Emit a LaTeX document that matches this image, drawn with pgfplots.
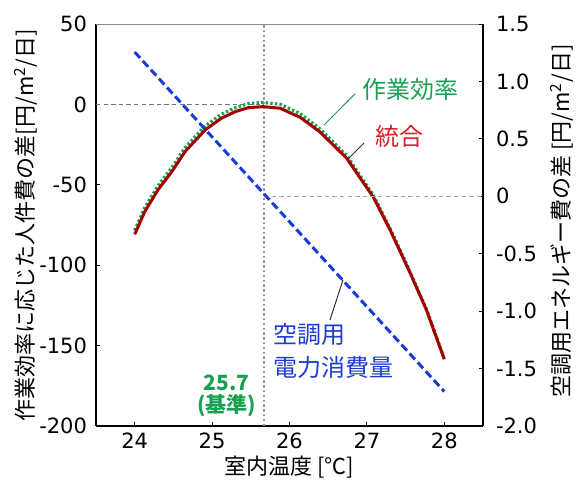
\documentclass[border=0pt]{standalone}
\usepackage{pgfplots}
\pgfplotsset{compat=1.18}
\usepackage{fontspec}
\setmainfont{DejaVu Sans}
\newfontfamily\jp{Noto Sans CJK JP}
\definecolor{cgreen}{RGB}{25,160,80}
\definecolor{cdred}{RGB}{165,0,0}
\definecolor{cred}{RGB}{220,30,40}
\definecolor{cblue}{RGB}{25,60,215}
\definecolor{cbluetxt}{RGB}{30,60,210}
\begin{document}
\begin{tikzpicture}
\begin{axis}[
  at={(0,0)}, anchor=south west, scale only axis,
  width=193.5pt, height=201pt,
  xmin=23.5, xmax=28.5, ymin=-200, ymax=50,
  axis x line*=bottom, axis y line*=left,
  xtick={24,25,26,27,28}, ytick={-200,-150,-100,-50,0,50},
  tick align=inside, major tick length=2pt,
  tick style={black, line width=0.5pt},
  axis line style={black, line width=0.6pt},
  ticklabel style={font=\fontsize{10.5}{12}\selectfont},
  yticklabel style={xshift=-1pt},
  /pgf/number format/assume math mode=true,
  clip=false,
]
\draw[gray!90, line width=0.5pt] (rel axis cs:0,1) -- (rel axis cs:1,1);
\draw[gray!80, line width=0.8pt, dash pattern=on 1.2pt off 1.2pt] (axis cs:25.67,-200) -- (axis cs:25.67,50);
\draw[gray!110, line width=0.5pt, dash pattern=on 2.2pt off 1.6pt] (axis cs:23.5,0) -- (axis cs:25.67,0);
\addplot[cgreen, line width=1.6pt, dash pattern=on 1.2pt off 1.1pt] coordinates {
(24,-78.3) (24.13,-64.2) (24.3,-50.7) (24.48,-39.3) (24.65,-26.9) (24.91,-13.4) (25.12,-6.1) (25.3,-2.0) (25.47,0.5) (25.66,1.2) (25.88,0.1) (26.14,-5.8) (26.39,-15) (26.74,-31.8) (26.93,-45.6) (27.08,-56.2) (27.30,-77.2) (27.56,-104.3) (27.77,-127.4) (28,-158.1)};
\addplot[cdred, line width=1.5pt] coordinates {
(24,-80.8) (24.13,-66.7) (24.3,-53.2) (24.48,-41.8) (24.65,-29.4) (24.91,-15.9) (25.12,-8.6) (25.3,-4.5) (25.47,-2.0) (25.66,-1.4) (25.88,-2.4) (26.14,-8.1) (26.39,-17) (26.74,-33.5) (26.93,-47) (27.08,-57.4) (27.30,-78.1) (27.56,-105) (27.77,-127.9) (28,-158.5)};
% annotations
\draw[cgreen, line width=0.5pt] (axis cs:26.446,-12.8) -- (axis cs:26.846,6.5);
\node[cgreen, font=\jp\fontsize{12}{14}\selectfont] at (axis cs:27.557,9.6) {作業効率};
\draw[black!80, line width=0.5pt] (axis cs:26.743,-34.6) -- (axis cs:26.963,-24.0);
\node[cred, font=\jp\fontsize{12}{14}\selectfont] at (axis cs:27.415,-19.7) {統合};
\draw[black!80, line width=0.5pt] (axis cs:26.523,-134.1) -- (axis cs:26.691,-109.2);
\node[cbluetxt, font=\jp\fontsize{12}{16.75}\selectfont, align=left, anchor=west, inner sep=0pt] at (axis cs:25.787,-153.2) {空調用\\電力消費量};
\node[cgreen, font=\jp\bfseries\fontsize{10.5}{11}\selectfont, align=center] at (axis cs:25.19,-181.4) {25.7\\(基準)};
% axis labels
\node[rotate=90, font=\jp\fontsize{11}{13}\selectfont] at ([xshift=-35pt]rel axis cs:0,0.5) {作業効率に応じた人件費の差[円/m\textsuperscript{2}/日]};
\node[rotate=90, font=\jp\fontsize{11}{13}\selectfont] at ([xshift=39.5pt]rel axis cs:1,0.51) {空調用エネルギー費の差 [円/m\textsuperscript{2}/日]};
\node[font=\jp\fontsize{11}{13}\selectfont] at ([yshift=-20.5pt]rel axis cs:0.5,0) {室内温度 [℃]};
\end{axis}
\begin{axis}[
  at={(0,0)}, anchor=south west, scale only axis,
  width=193.5pt, height=201pt,
  xmin=23.5, xmax=28.5, ymin=-2, ymax=1.5,
  axis y line*=right, axis x line=none,
  ytick={-2,-1.5,-1,-0.5,0,0.5,1,1.5},
  yticklabels={-2.0,-1.5,-1.0,-0.5,0,0.5,1.0,1.5},
  tick align=inside, major tick length=2pt,
  tick style={black, line width=0.5pt},
  axis line style={black, line width=0.6pt},
  ticklabel style={font=\fontsize{10.5}{12}\selectfont},
  yticklabel style={xshift=3pt},
  /pgf/number format/assume math mode=true,
  clip=false,
]
\draw[gray!70, line width=0.5pt, dash pattern=on 2.2pt off 1.6pt] (axis cs:25.67,0) -- (axis cs:28.5,0);
\addplot[cblue, line width=1.5pt, dash pattern=on 4pt off 2pt] coordinates {
(24,1.256) (25,0.517) (26,-0.222) (27,-0.961) (28,-1.70)};
\end{axis}
\pgfresetboundingbox
\path[use as bounding box] (-48pt,-28.5pt) rectangle (245pt,213pt);
\end{tikzpicture}
\end{document}
